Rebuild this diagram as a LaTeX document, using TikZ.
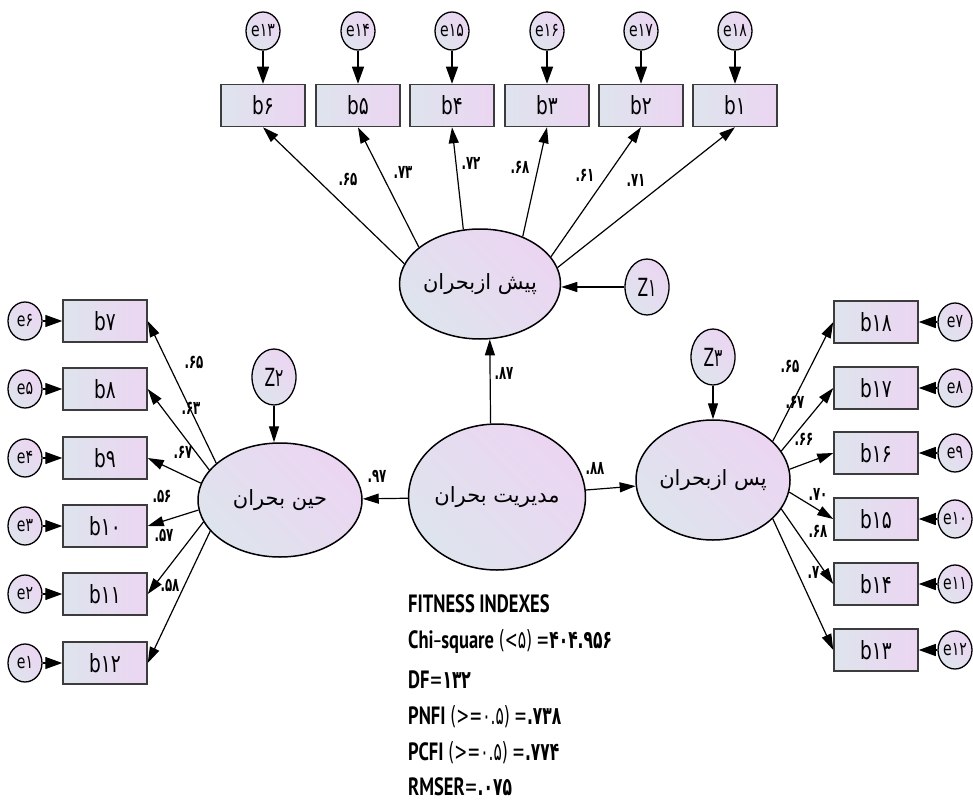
\documentclass[tikz,border=0pt]{standalone}
\usepackage{fontspec}
\usetikzlibrary{shapes.geometric,arrows.meta,calc}
\TeXXeTstate=1
\newfontfamily\dvn{DejaVu Sans}[FakeStretch=0.74]
\newfontfamily\dvz{DejaVu Sans}[FakeStretch=0.62]
\newfontfamily\arfont{DejaVu Sans}[Script=Arabic]
\newfontfamily\ptb{PT Sans}[FakeStretch=0.74]
\definecolor{cA}{RGB}{222,228,237}
\definecolor{cB}{RGB}{236,213,242}
\definecolor{bd}{RGB}{60,60,60}
\tikzset{
  obs/.style={rectangle, draw=bd, line width=1.5pt, minimum width=84pt, minimum height=42pt, inner sep=0pt,
    left color=cA, right color=cB, font=\dvn\fontsize{25}{28}\selectfont},
  err/.style={ellipse, draw=black, line width=1.3pt, minimum width=34pt, minimum height=38pt, inner sep=0pt,
    left color=cA, right color=cB, shading angle=135, font=\dvn\fontsize{19}{20}\selectfont},
  zc/.style={ellipse, draw=black, line width=1.3pt, minimum width=44pt, minimum height=56pt, inner sep=0pt,
    left color=cA, right color=cB, shading angle=135, font=\dvz\fontsize{25}{26}\selectfont},
  lat/.style={ellipse, draw=black, line width=1.5pt, inner sep=0pt,
    left color=cA, right color=cB, shading angle=135, font=\arfont\fontsize{21}{24}\selectfont},
  arr/.style={line width=1.2pt, -{Triangle[length=16pt,width=10pt]}},
  earr/.style={line width=1.2pt, -{Triangle[length=17pt,width=12pt]}},
  coef/.style={inner sep=0pt, font=\dvz\bfseries\fontsize{19}{20}\selectfont},
  fit/.style={anchor=west, inner sep=0pt, font=\fontsize{25}{28}\selectfont},
}
\begin{document}
\begin{tikzpicture}[x=1pt,y=-1pt]
\useasboundingbox (0,0) rectangle (973,805);
% latent variables
\node[lat, minimum width=152pt, minimum height=110pt] (pish) at (480,284) {\beginR پیش ازبحران\endR};
\node[lat, minimum width=164pt, minimum height=114pt] (hin) at (280,500) {\beginR حین بحران\endR};
\node[lat, minimum width=156pt, minimum height=146pt] (modir) at (497,497) {\beginR مدیریت بحران\endR};
\node[lat, minimum width=154pt, minimum height=120pt] (pas) at (713,480) {\beginR پس ازبحران\endR};
% disturbances
\node[zc] (z1) at (647,287) {Z۱};
\node[zc] (z2) at (274,377) {Z۲};
\node[zc] (z3) at (713,357) {Z۳};
% top indicators
\node[obs] (b6) at (263,105.5) {b۶};
\node[obs] (b5) at (358,105.5) {b۵};
\node[obs] (b4) at (452,105.5) {b۴};
\node[obs] (b3) at (547,105.5) {b۳};
\node[obs] (b2) at (641,105.5) {b۲};
\node[obs] (b1) at (735,105.5) {b۱};
\node[err] (e13) at (263,31) {e۱۳};
\node[err] (e14) at (358,31) {e۱۴};
\node[err] (e15) at (452,31) {e۱۵};
\node[err] (e16) at (547,31) {e۱۶};
\node[err] (e17) at (641,31) {e۱۷};
\node[err] (e18) at (735,31) {e۱۸};
% left indicators
\node[obs] (b7) at (105,321) {b۷};
\node[obs] (b8) at (105,389) {b۸};
\node[obs] (b9) at (105,458) {b۹};
\node[obs] (b10) at (105,526) {b۱۰};
\node[obs] (b11) at (105,594) {b۱۱};
\node[obs] (b12) at (105,663) {b۱۲};
\node[err] (e6) at (25,321) {e۶};
\node[err] (e5) at (25,389) {e۵};
\node[err] (e4) at (25,458) {e۴};
\node[err] (e3) at (25,526) {e۳};
\node[err] (e2) at (25,594) {e۲};
\node[err] (e1) at (25,663) {e۱};
% right indicators
\node[obs] (b18) at (876,322) {b۱۸};
\node[obs] (b17) at (876,388) {b۱۷};
\node[obs] (b16) at (876,453) {b۱۶};
\node[obs] (b15) at (876,519) {b۱۵};
\node[obs] (b14) at (876,584) {b۱۴};
\node[obs] (b13) at (876,650) {b۱۳};
\node[err] (e7) at (955,322) {e۷};
\node[err] (e8) at (955,388) {e۸};
\node[err] (e9) at (955,453) {e۹};
\node[err] (e10) at (955,519) {e۱۰};
\node[err] (e11) at (955,584) {e۱۱};
\node[err] (e12) at (955,650) {e۱۲};
% coefficient labels
\node[coef] (t1) at (348,179) {.۶۵};
\node[coef] (t2) at (403,172) {.۷۳};
\node[coef] (t3) at (471,163) {.۷۲};
\node[coef] (t4) at (520,167) {.۶۸};
\node[coef] (t5) at (585,175) {.۶۱};
\node[coef] (t6) at (636,180) {.۷۱};
\node[coef] (l1) at (194,362) {.۶۵};
\node[coef] (l2) at (191,408) {.۶۳};
\node[coef] (l3) at (183,452) {.۶۷};
\node[coef] (l4) at (162,496) {.۵۶};
\node[coef] (l5) at (164,535) {.۵۷};
\node[coef] (l6) at (170,585) {.۵۸};
\node[coef] (r1) at (790,366) {.۶۵};
\node[coef] (r2) at (795,402) {.۶۷};
\node[coef] (r3) at (804,439) {.۶۶};
\node[coef] (r4) at (818,494) {.۷۰};
\node[coef] (r5) at (818,531) {.۶۸};
\node[coef] (r6) at (817,572) {.۷۰};
\node[coef] (c1) at (504,373) {.۸۷};
\node[coef] (c2) at (377,476) {.۹۷};
\node[coef] (c3) at (595,468) {.۸۸};
% structural paths
\draw[arr] (modir.95.5) -- (pish.280);
\draw[arr] (modir) -- (hin);
\draw[arr] (modir) -- (pas);
\draw[arr] (z1.west) -- (z1.west -| pish.east);
\draw[arr] (z2.south) -- (z2.south |- hin.north);
\draw[arr] (z3.south) -- (z3.south |- pas.north);
% top loadings
\draw[arr] (pish.165) -- (b6.south);
\draw[arr] (pish.149) -- (b5.south);
\draw[arr] (pish.107) -- (b4.south);
\draw[arr] (pish.48) -- (b3.south);
\draw[arr] (pish.21) -- (b2.south);
\draw[arr] (pish.12) -- (b1.south);
% left loadings
\draw[arr] (hin.150) -- (b7.east);
\draw[arr] (hin.157) -- (b8.east);
\draw[arr] (hin.168) -- (b9.east);
\draw[arr] (hin.187) -- (b10.east);
\draw[arr] (hin.196) -- (b11.east);
\draw[arr] (hin.204) -- (b12.east);
% right loadings
\draw[arr] (pas.33) -- (b18.west);
\draw[arr] (pas.23) -- (b17.west);
\draw[arr] (pas.8) -- (b16.west);
\draw[arr] (pas.-9) -- (b15.west);
\draw[arr] (pas.-23) -- (b14.west);
\draw[arr] (pas.-33) -- (b13.west);
% error arrows
\foreach \e/\b in {e13/b6,e14/b5,e15/b4,e16/b3,e17/b2,e18/b1}
  \draw[earr] (\e.south) -- (\b.north);
\foreach \e/\b in {e6/b7,e5/b8,e4/b9,e3/b10,e2/b11,e1/b12}
  \draw[earr] (\e.east) -- (\b.west);
\foreach \e/\b in {e7/b18,e8/b17,e9/b16,e10/b15,e11/b14,e12/b13}
  \draw[earr] (\e.west) -- (\b.east);
% fitness indexes
\node[fit] (f1) at (408,604) {\ptb\bfseries FITNESS INDEXES};
\node[fit] (f2) at (408,642) {\ptb\bfseries Chi{\mdseries\dvz –}square {\mdseries\dvz (<۵)\,=}{\dvz\bfseries ۴۰۴.۹۵۶}};
\node[fit] (f3) at (408,680) {\ptb\bfseries DF{\mdseries\dvz =}{\dvz\bfseries ۱۳۲}};
\node[fit] (f4) at (408,717) {\ptb\bfseries PNFI {\mdseries\dvz (>=۰.۵)\,=}{\dvz\bfseries .۷۳۸}};
\node[fit] (f5) at (408,753) {\ptb\bfseries PCFI {\mdseries\dvz (>=۰.۵)\,=}{\dvz\bfseries .۷۷۴}};
\node[fit] (f6) at (408,787) {\ptb\bfseries RMSER{\mdseries\dvz =}{\dvz\bfseries .۰۷۵}};
\end{tikzpicture}
\end{document}
